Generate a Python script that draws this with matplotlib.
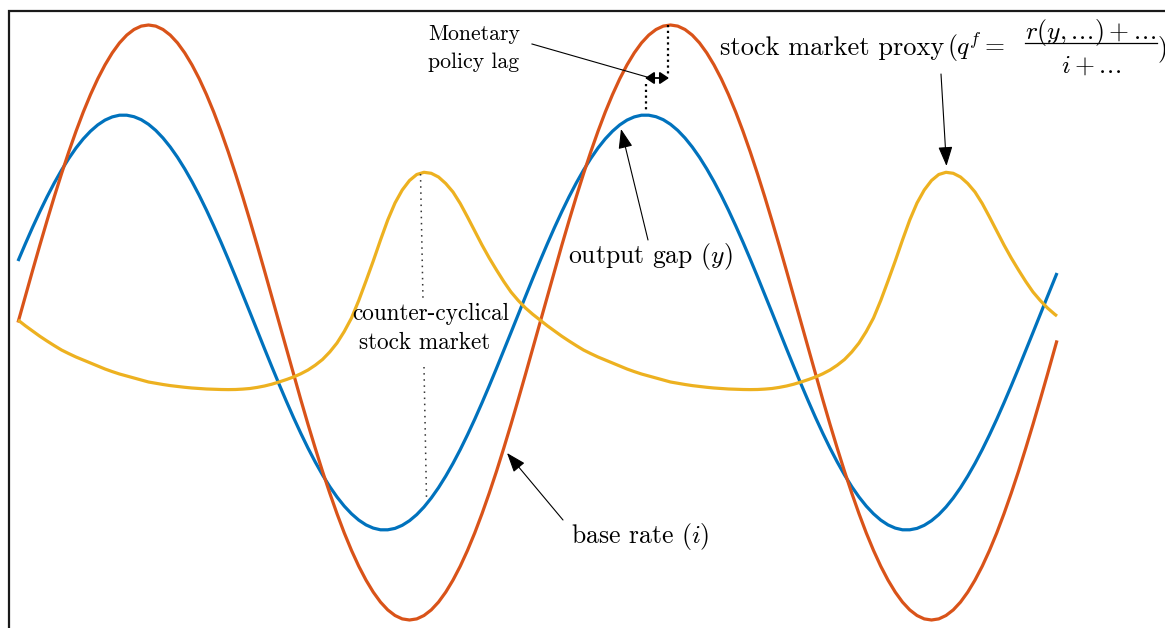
import matplotlib.pyplot as plt

plt.rcParams['mathtext.fontset'] = 'cm'
plt.rcParams['font.family'] = ['cmr10', 'DejaVu Serif']
plt.rcParams['axes.formatter.use_mathtext'] = True

# time axis shared by the three series
time_x = [18, 25.25, 32.5, 39.75, 47, 54.25, 61.5, 68.75, 76, 83.25, 90.5, 97.75,
          105, 112.25, 119.5, 126.75, 134, 141.25, 148.5, 155.75, 163, 170.25, 177.5, 184.75,
          192, 199.25, 206.5, 213.75, 221, 228.25, 235.5, 242.75, 250, 257.25, 264.5, 271.75,
          279, 286.25, 293.5, 300.75, 308, 315.25, 322.5, 329.75, 337, 344.25, 351.5, 358.75,
          366, 373.25, 380.5, 387.75, 395, 402.25, 409.5, 416.75, 424, 431.25, 438.5, 445.75,
          453, 460.25, 467.5, 474.75, 482, 489.25, 496.5, 503.75, 511, 518.25, 525.5, 532.75,
          540, 547.25, 554.5, 561.75, 569, 576.25, 583.5, 590.75, 598, 605.25, 612.5, 619.75,
          627, 634.25, 641.5, 648.75, 656, 663.25, 670.5, 677.75, 685, 692.25, 699.5, 706.75,
          714, 721.25, 728.5, 735.75, 743, 750.25, 757.5, 764.75, 772, 779.25, 786.5, 793.75,
          801, 808.25, 815.5, 822.75, 830, 837.25, 844.5, 851.75, 859, 866.25, 873.5, 880.75,
          888, 895.25, 902.5, 909.75, 917, 924.25, 931.5, 938.75, 946, 953.25, 960.5, 967.75,
          975, 982.25, 989.5, 996.75, 1004, 1011.25, 1018.5, 1025.75, 1033, 1040.25, 1047.5, 1054.75,
          1057]

output_gap = [261.0, 244.0, 227.5, 211.8, 196.9, 183.0, 170.2, 158.5, 148.0, 138.9, 131.2, 124.9,
              120.1, 116.9, 115.2, 115.2, 116.7, 119.7, 124.3, 130.4, 138.0, 147.0, 157.3, 168.9,
              181.6, 195.4, 210.2, 225.9, 242.2, 259.2, 276.7, 294.5, 312.5, 330.6, 348.7, 366.5,
              384.0, 401.0, 417.5, 433.2, 448.1, 462.0, 474.9, 486.6, 497.0, 506.1, 513.8, 520.1,
              524.9, 528.1, 529.8, 529.8, 528.4, 525.3, 520.7, 514.6, 507.0, 498.0, 487.7, 476.1,
              463.4, 449.6, 434.8, 419.2, 402.8, 385.8, 368.3, 350.5, 332.5, 314.4, 296.4, 278.5,
              261.0, 244.0, 227.5, 211.8, 196.9, 183.0, 170.2, 158.5, 148.0, 138.9, 131.2, 124.9,
              120.1, 116.9, 115.2, 115.2, 116.7, 119.7, 124.3, 130.4, 138.0, 147.0, 157.3, 168.9,
              181.6, 195.4, 210.2, 225.9, 242.2, 259.2, 276.7, 294.5, 312.5, 330.6, 348.7, 366.5,
              384.0, 401.0, 417.5, 433.2, 448.1, 462.0, 474.9, 486.6, 497.0, 506.1, 513.8, 520.1,
              524.9, 528.1, 529.8, 529.8, 528.4, 525.3, 520.7, 514.6, 507.0, 498.0, 487.7, 476.1,
              463.4, 449.6, 434.8, 419.2, 402.8, 385.8, 368.3, 350.5, 332.5, 314.4, 296.4, 278.5,
              273.0]

base_rate = [322.5, 296.6, 270.8, 245.5, 220.8, 196.8, 173.8, 151.9, 131.3, 112.1, 94.6, 78.8,
             64.9, 52.9, 42.9, 35.1, 29.5, 26.1, 25.0, 26.1, 29.5, 35.1, 42.9, 52.9,
             64.9, 78.8, 94.6, 112.1, 131.3, 151.9, 173.8, 196.8, 220.8, 245.5, 270.8, 296.6,
             322.5, 348.4, 374.2, 399.5, 424.3, 448.2, 471.3, 493.1, 513.7, 532.9, 550.4, 566.2,
             580.1, 592.1, 602.1, 609.9, 615.5, 618.9, 620.0, 618.9, 615.5, 609.9, 602.1, 592.1,
             580.1, 566.2, 550.4, 532.9, 513.7, 493.1, 471.3, 448.2, 424.3, 399.5, 374.2, 348.4,
             322.5, 296.6, 270.8, 245.5, 220.8, 196.8, 173.8, 151.9, 131.3, 112.1, 94.6, 78.8,
             64.9, 52.9, 42.9, 35.1, 29.5, 26.1, 25.0, 26.1, 29.5, 35.1, 42.9, 52.9,
             64.9, 78.8, 94.6, 112.1, 131.3, 151.9, 173.8, 196.8, 220.8, 245.5, 270.8, 296.6,
             322.5, 348.4, 374.2, 399.5, 424.3, 448.2, 471.3, 493.1, 513.7, 532.9, 550.4, 566.2,
             580.1, 592.1, 602.1, 609.9, 615.5, 618.9, 620.0, 618.9, 615.5, 609.9, 602.1, 592.1,
             580.1, 566.2, 550.4, 532.9, 513.7, 493.1, 471.3, 448.2, 424.3, 399.5, 374.2, 348.4,
             340.4]

stock_proxy = [320, 325.7, 331, 336.2, 341, 345.6, 350, 353.6, 357, 360, 363, 366,
               369, 371.6, 374, 376, 378, 380, 382, 383.3, 384.5, 385.6, 386.5, 387.3,
               388, 388.5, 389, 389.3, 389.5, 389.6, 389.5, 389.1, 388.5, 387.4, 386, 384.2,
               382, 379.6, 377, 373.8, 370, 365.2, 359.5, 352, 343, 331.5, 318, 300.5,
               281, 261, 240, 220, 203, 190, 180.5, 174.5, 172.3, 173.3, 177, 183.5,
               192, 203.5, 217, 231, 245, 258, 270, 281.5, 292, 300.5, 308, 314.3,
               320, 325.7, 331, 336.2, 341, 345.6, 350, 353.6, 357, 360, 363, 366,
               369, 371.6, 374, 376, 378, 380, 382, 383.3, 384.5, 385.6, 386.5, 387.3,
               388, 388.5, 389, 389.3, 389.5, 389.6, 389.5, 389.1, 388.5, 387.4, 386, 384.2,
               382, 379.6, 377, 373.8, 370, 365.2, 359.5, 352, 343, 331.5, 318, 300.5,
               281, 261, 240, 220, 203, 190, 180.5, 174.5, 172.3, 173.3, 177, 183.5,
               192, 203.5, 217, 231, 245, 258, 270, 281.5, 292, 300.5, 308, 314.3,
               316]

blue = '#0072BD'
red = '#D95319'
yellow = '#EDB120'

fig = plt.figure(figsize=(11.65, 6.28), dpi=100)
ax = fig.add_axes([0, 0, 1, 1])
ax.set_xlim(0, 1165)
ax.set_ylim(628, 0)
ax.axis('off')

# frame (only left and top edges are inside the crop)
ax.plot([9, 9, 1170], [640, 11, 11], color='#1a1a1a', lw=1.6, solid_joinstyle='miter')

ax.plot(time_x, output_gap, color=blue, lw=2.3, solid_capstyle='butt')
ax.plot(time_x, base_rate, color=red, lw=2.3, solid_capstyle='butt')
ax.plot(time_x, stock_proxy, color=yellow, lw=2.3, solid_capstyle='butt')

# dotted guides
ax.plot([420.5, 423], [174, 300], color='#333333', lw=1.1, linestyle=(0, (1, 3)))
ax.plot([424, 426.5], [367, 498], color='#333333', lw=1.1, linestyle=(0, (1, 3)))
ax.plot([668, 668], [25, 77], color='black', lw=1.6, linestyle=(0, (1, 1.6)))
ax.plot([646, 646], [84, 110], color='black', lw=1.6, linestyle=(0, (1, 1.6)))

# monetary policy lag
ax.text(428, 40.5, 'Monetary', fontsize=15.7, va='baseline')
ax.text(428, 68, 'policy lag', fontsize=15.7, va='baseline')
ax.plot([532, 647], [44, 77], color='black', lw=0.8)
ax.annotate('', xy=(669, 78), xytext=(645, 78),
            arrowprops=dict(arrowstyle='<|-|>,head_length=0.45,head_width=0.3',
                            mutation_scale=12, lw=1.3, color='black',
                            shrinkA=0, shrinkB=0))

head = '-|>,head_length=0.6,head_width=0.22'
arrow_kw = dict(arrowstyle=head, mutation_scale=20, lw=0.8, color='black',
                shrinkA=0, shrinkB=0)

# stock market proxy label with its fraction
ax.text(720, 55, 'stock market proxy', fontsize=19, va='baseline')
ax.text(947, 55, r'$(q^f =$', fontsize=18.5, va='baseline')
ax.text(1091, 38.5, r'$r(y,.\!.\!.\!)+.\!.\!.$', fontsize=18.5, ha='center', va='baseline')
ax.plot([1025, 1157], [42.7, 42.7], color='black', lw=0.9)
ax.text(1091, 73, r'$i+.\!.\!.$', fontsize=18.5, ha='center', va='baseline')
ax.text(1158, 55, ')', fontsize=18.5, va='baseline')
ax.annotate('', xy=(946.5, 166), xytext=(941, 74), arrowprops=arrow_kw)

ax.text(568, 263, r'output gap $(y)$', fontsize=18.5, va='baseline')
ax.annotate('', xy=(621, 129), xytext=(648, 240), arrowprops=arrow_kw)

ax.text(431, 320, 'counter-cyclical', fontsize=16.7, ha='center', va='baseline')
ax.text(425, 349, 'stock market', fontsize=16.7, ha='center', va='baseline')

ax.text(571, 543, r'base rate $(i)$', fontsize=18.5, va='baseline')
ax.annotate('', xy=(507, 453), xytext=(563, 520), arrowprops=arrow_kw)

fig.savefig('out.png', dpi=100)
